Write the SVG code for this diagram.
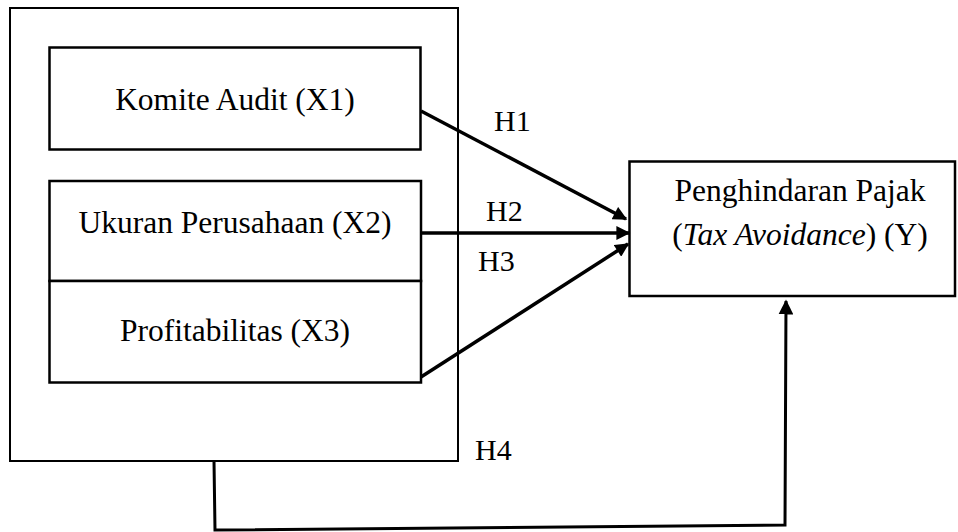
<svg xmlns="http://www.w3.org/2000/svg" width="958" height="532" viewBox="0 0 958 532">
<defs>
<style>
.box{fill:#fff;stroke:#000;stroke-width:2.5}
.outer{fill:#fff;stroke:#000;stroke-width:2}
.t{font-family:"Liberation Serif","Times New Roman",serif;font-size:31.5px;fill:#000;text-anchor:middle}
.h{font-family:"Liberation Serif","Times New Roman",serif;font-size:30px;fill:#000}
.c{fill:none;stroke:#000;stroke-width:3.5}
</style>
<marker id="ah" viewBox="0 0 10 10" refX="9" refY="5" markerWidth="4.2" markerHeight="4" markerUnits="strokeWidth" orient="auto">
<path d="M0,0 L10,5 L0,10 z" fill="#000"/>
</marker>
<marker id="ah4" viewBox="0 0 10 10" refX="9" refY="5" markerWidth="5" markerHeight="5" markerUnits="strokeWidth" orient="auto">
<path d="M0,0 L10,5 L0,10 z" fill="#000"/>
</marker>
</defs>
<g id="outer"><rect class="outer" x="10" y="8" width="448" height="453"/></g>
<g id="x1"><rect class="box" x="49.5" y="47.5" width="371" height="102"/><text class="t" x="235" y="110">Komite Audit (X1)</text></g>
<g id="x2"><rect class="box" x="49.5" y="181" width="371.5" height="100"/><text class="t" x="235" y="233">Ukuran Perusahaan (X2)</text></g>
<g id="x3"><rect class="box" x="49.5" y="281" width="371.5" height="101.5"/><text class="t" x="235" y="341">Profitabilitas (X3)</text></g>
<g id="y"><rect class="box" x="629.5" y="161.5" width="325.5" height="134.5"/><text class="t" x="800" y="201">Penghindaran Pajak</text><text class="t" x="800" y="245">(<tspan font-style="italic">Tax Avoidance</tspan>) (Y)</text></g>
<g id="connectors">
<line class="c" x1="421" y1="111" x2="626" y2="219" marker-end="url(#ah)"/>
<line class="c" x1="421" y1="233" x2="629" y2="233" marker-end="url(#ah)"/>
<line class="c" x1="421" y1="377" x2="628" y2="244" marker-end="url(#ah)"/>
<polyline fill="none" stroke="#000" stroke-width="3" points="214,461 215,530 785,525 786,301" marker-end="url(#ah4)"/>
</g>
<g id="labels">
<text class="h" x="494" y="131">H1</text>
<text class="h" x="486" y="221">H2</text>
<text class="h" x="478" y="271">H3</text>
<text class="h" x="475" y="460">H4</text>
</g>
</svg>
